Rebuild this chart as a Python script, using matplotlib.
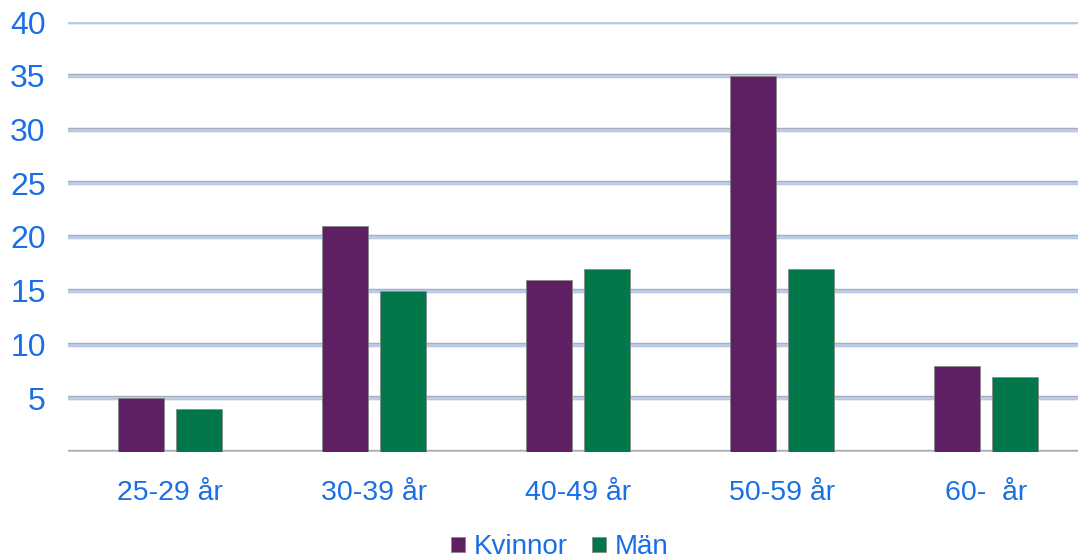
import matplotlib.pyplot as plt
import numpy as np

plt.rcParams['font.family'] = ['Liberation Sans', 'DejaVu Sans']

categories = ['25-29 år', '30-39 år', '40-49 år', '50-59 år', '60-  år']
kvinnor = [5, 21, 16, 35, 8]
man = [4, 15, 17, 17, 7]

blue = '#1A6FE6'
fig = plt.figure(figsize=(10.78, 5.59), dpi=100)
ax = fig.add_axes([68/1078, 1 - 452/559, 1020/1078, 430/559])

x = np.arange(len(categories))
w = 0.225
ax.bar(x - 0.142, kvinnor, w, color='#5E2062', edgecolor='#888888', linewidth=0.6, label='Kvinnor', zorder=3)
ax.bar(x + 0.142, man, w, color='#00784A', edgecolor='#888888', linewidth=0.6, label='Män', zorder=3)

for yv in range(0, 45, 5):
    ax.axhline(yv, color='#A8AFBA', lw=3.2, zorder=1)
    ax.axhline(yv, color='#BACDEC', lw=2.0, zorder=2)

ax.set_xlim(-0.5, 4.5)
ax.set_ylim(0, 40)
ax.set_yticks(range(5, 45, 5))
ax.set_xticks(x)
ax.set_xticklabels(categories)
ax.tick_params(axis='y', length=0, pad=16, labelsize=23, labelcolor=blue)
ax.tick_params(axis='x', length=0, pad=20, labelsize=20.5, labelcolor=blue)
for s in ax.spines.values():
    s.set_visible(False)

leg = ax.legend(loc='lower center', bbox_to_anchor=(0.482, -0.31), ncol=2, frameon=False,
                fontsize=20, handlelength=0.5, handleheight=0.5, handletextpad=0.3, columnspacing=0.9)
for t in leg.get_texts():
    t.set_color(blue)

plt.savefig('out.png', dpi=100)
